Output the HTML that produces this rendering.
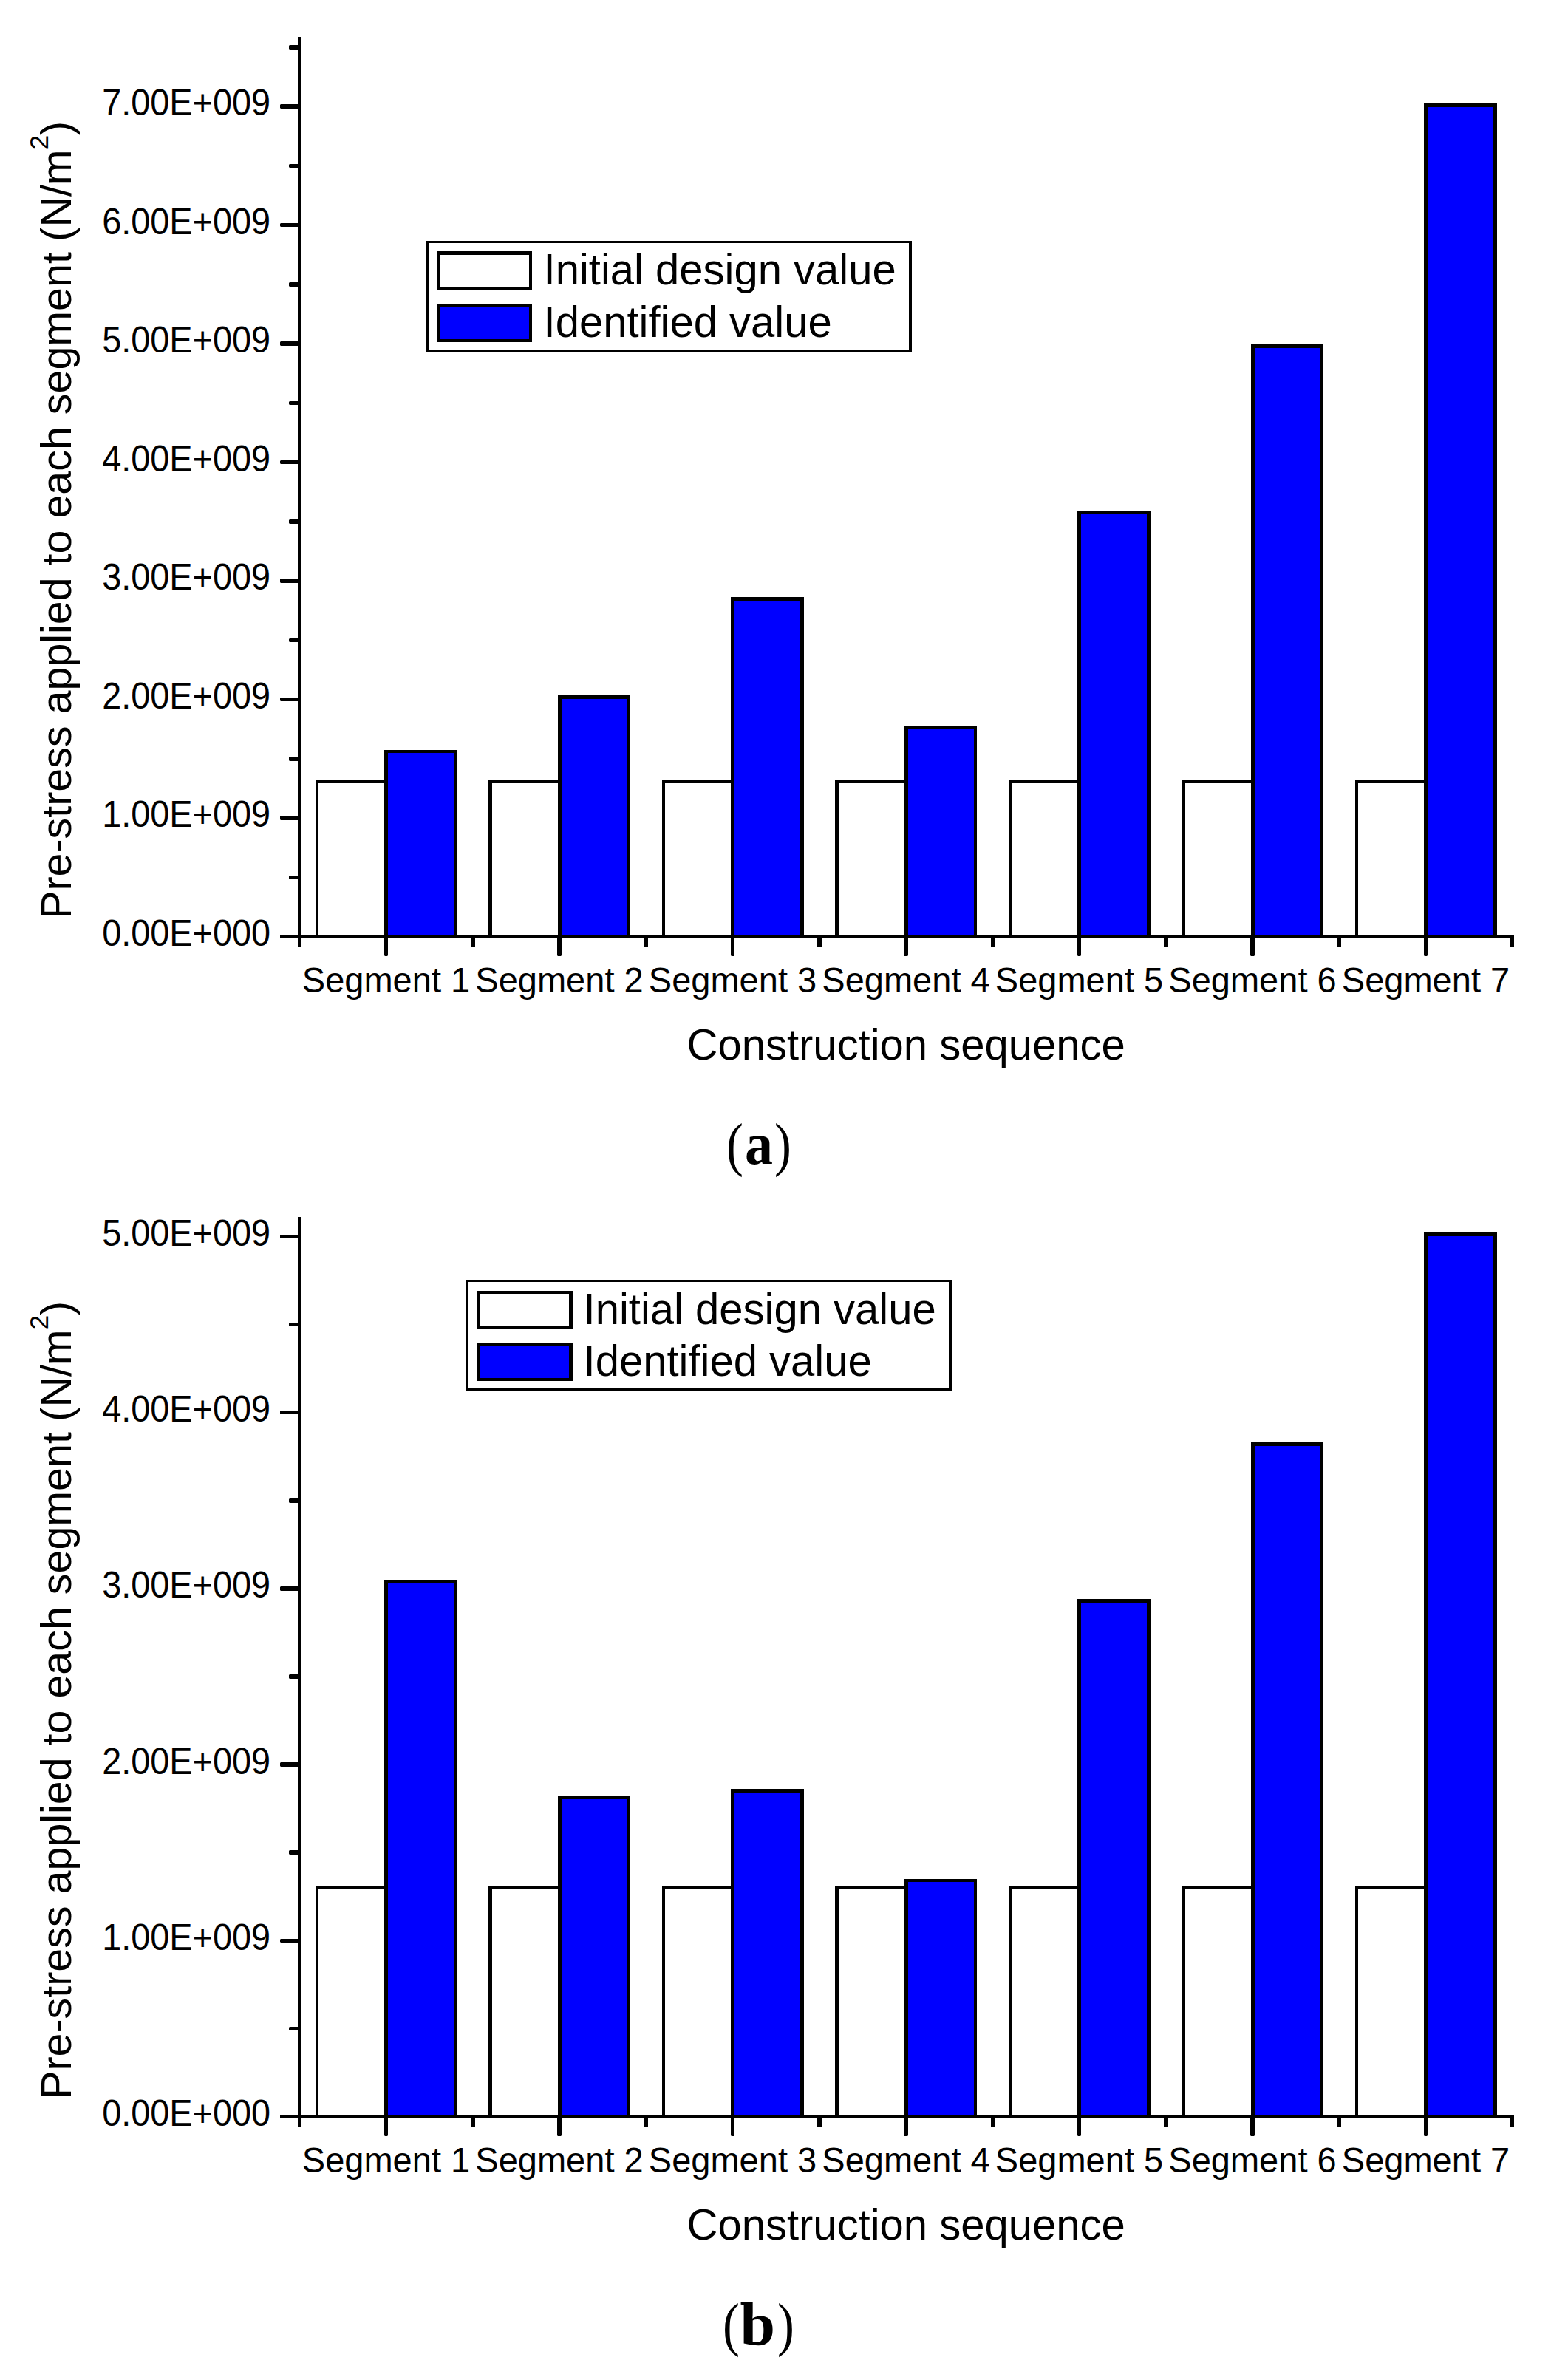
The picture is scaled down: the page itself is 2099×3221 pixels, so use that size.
<!DOCTYPE html>
<html><head><meta charset="utf-8"><title>Pre-stress applied to each segment</title>
<style>
html,body{margin:0;padding:0;background:#fff;}
svg{display:block;}
text{fill:#000;}
</style></head>
<body>
<svg width="2099" height="3221" viewBox="0 0 2099 3221" font-family='"Liberation Sans", sans-serif'>
<rect x="0" y="0" width="2099" height="3221" fill="#fff"/>
<g id="panel-a">
<rect x="427" y="1056" width="98" height="212" fill="#000"/><rect x="431" y="1060" width="89" height="208" fill="#fff"/>
<rect x="661" y="1056" width="99" height="212" fill="#000"/><rect x="666" y="1060" width="89" height="208" fill="#fff"/>
<rect x="896" y="1056" width="98" height="212" fill="#000"/><rect x="900" y="1060" width="89" height="208" fill="#fff"/>
<rect x="1130" y="1056" width="99" height="212" fill="#000"/><rect x="1135" y="1060" width="89" height="208" fill="#fff"/>
<rect x="1365" y="1056" width="98" height="212" fill="#000"/><rect x="1369" y="1060" width="89" height="208" fill="#fff"/>
<rect x="1599" y="1056" width="99" height="212" fill="#000"/><rect x="1604" y="1060" width="89" height="208" fill="#fff"/>
<rect x="1834" y="1056" width="98" height="212" fill="#000"/><rect x="1838" y="1060" width="89" height="208" fill="#fff"/>
<rect x="520" y="1015" width="99" height="253" fill="#000"/><rect x="525" y="1019" width="89" height="249" fill="#0000ff"/>
<rect x="755" y="941" width="98" height="327" fill="#000"/><rect x="760" y="946" width="89" height="322" fill="#0000ff"/>
<rect x="989" y="808" width="99" height="460" fill="#000"/><rect x="994" y="813" width="89" height="455" fill="#0000ff"/>
<rect x="1224" y="982" width="98" height="286" fill="#000"/><rect x="1229" y="987" width="89" height="281" fill="#0000ff"/>
<rect x="1458" y="691" width="99" height="577" fill="#000"/><rect x="1463" y="695" width="89" height="573" fill="#0000ff"/>
<rect x="1693" y="466" width="98" height="802" fill="#000"/><rect x="1698" y="471" width="89" height="797" fill="#0000ff"/>
<rect x="1927" y="140" width="99" height="1128" fill="#000"/><rect x="1932" y="145" width="89" height="1123" fill="#0000ff"/>
<rect x="403" y="50" width="5" height="1232" fill="#000"/>
<rect x="380" y="1265" width="1669" height="5" fill="#000"/>
<polygon points="380,1265 380,1270 379,1269 379,1266" fill="#000"/>
<text transform="translate(365.95,1279.90) scale(1.0,1.05)" font-size="46.8" text-anchor="end">0.00E+000</text>
<polygon points="392,1185 403,1185 403,1190 392,1190 391,1189 391,1186" fill="#000"/>
<polygon points="380,1104 403,1104 403,1110 380,1110 379,1109 379,1105" fill="#000"/>
<text transform="translate(365.95,1119.40) scale(1.0,1.05)" font-size="46.8" text-anchor="end">1.00E+009</text>
<polygon points="392,1024 403,1024 403,1030 392,1030 391,1029 391,1025" fill="#000"/>
<polygon points="380,944 403,944 403,949 380,949 379,948 379,945" fill="#000"/>
<text transform="translate(365.95,958.90) scale(1.0,1.05)" font-size="46.8" text-anchor="end">2.00E+009</text>
<polygon points="392,864 403,864 403,869 392,869 391,868 391,865" fill="#000"/>
<polygon points="380,783 403,783 403,789 380,789 379,788 379,784" fill="#000"/>
<text transform="translate(365.95,798.40) scale(1.0,1.05)" font-size="46.8" text-anchor="end">3.00E+009</text>
<polygon points="392,703 403,703 403,709 392,709 391,708 391,704" fill="#000"/>
<polygon points="380,623 403,623 403,628 380,628 379,627 379,624" fill="#000"/>
<text transform="translate(365.95,637.90) scale(1.0,1.05)" font-size="46.8" text-anchor="end">4.00E+009</text>
<polygon points="392,543 403,543 403,548 392,548 391,547 391,544" fill="#000"/>
<polygon points="380,462 403,462 403,468 380,468 379,467 379,463" fill="#000"/>
<text transform="translate(365.95,477.40) scale(1.0,1.05)" font-size="46.8" text-anchor="end">5.00E+009</text>
<polygon points="392,382 403,382 403,388 392,388 391,387 391,383" fill="#000"/>
<polygon points="380,302 403,302 403,307 380,307 379,306 379,303" fill="#000"/>
<text transform="translate(365.95,316.90) scale(1.0,1.05)" font-size="46.8" text-anchor="end">6.00E+009</text>
<polygon points="392,222 403,222 403,227 392,227 391,226 391,223" fill="#000"/>
<polygon points="380,141 403,141 403,147 380,147 379,146 379,142" fill="#000"/>
<text transform="translate(365.95,156.40) scale(1.0,1.05)" font-size="46.8" text-anchor="end">7.00E+009</text>
<polygon points="392,61 403,61 403,67 392,67 391,66 391,62" fill="#000"/>
<polygon points="520,1270 525,1270 525,1293 524,1294 521,1294 520,1293" fill="#000"/>
<polygon points="637,1270 643,1270 643,1281 642,1282 638,1282 637,1281" fill="#000"/>
<text transform="translate(522.50,1342.60) scale(1.0,1.02)" font-size="47" text-anchor="middle">Segment 1</text>
<polygon points="754,1270 760,1270 760,1293 759,1294 755,1294 754,1293" fill="#000"/>
<polygon points="872,1270 877,1270 877,1281 876,1282 873,1282 872,1281" fill="#000"/>
<text transform="translate(757.00,1342.60) scale(1.0,1.02)" font-size="47" text-anchor="middle">Segment 2</text>
<polygon points="989,1270 994,1270 994,1293 993,1294 990,1294 989,1293" fill="#000"/>
<polygon points="1106,1270 1112,1270 1112,1281 1111,1282 1107,1282 1106,1281" fill="#000"/>
<text transform="translate(991.50,1342.60) scale(1.0,1.02)" font-size="47" text-anchor="middle">Segment 3</text>
<polygon points="1223,1270 1229,1270 1229,1293 1228,1294 1224,1294 1223,1293" fill="#000"/>
<polygon points="1341,1270 1346,1270 1346,1281 1345,1282 1342,1282 1341,1281" fill="#000"/>
<text transform="translate(1226.00,1342.60) scale(1.0,1.02)" font-size="47" text-anchor="middle">Segment 4</text>
<polygon points="1458,1270 1463,1270 1463,1293 1462,1294 1459,1294 1458,1293" fill="#000"/>
<polygon points="1575,1270 1581,1270 1581,1281 1580,1282 1576,1282 1575,1281" fill="#000"/>
<text transform="translate(1460.50,1342.60) scale(1.0,1.02)" font-size="47" text-anchor="middle">Segment 5</text>
<polygon points="1692,1270 1698,1270 1698,1293 1697,1294 1693,1294 1692,1293" fill="#000"/>
<polygon points="1810,1270 1815,1270 1815,1281 1814,1282 1811,1282 1810,1281" fill="#000"/>
<text transform="translate(1695.00,1342.60) scale(1.0,1.02)" font-size="47" text-anchor="middle">Segment 6</text>
<polygon points="1927,1270 1932,1270 1932,1293 1931,1294 1928,1294 1927,1293" fill="#000"/>
<rect x="2044" y="1270" width="5" height="12" fill="#000"/>
<text transform="translate(1929.50,1342.60) scale(1.0,1.02)" font-size="47" text-anchor="middle">Segment 7</text>
<text transform="translate(1226.15,1433.70) scale(1.0,1.01)" font-size="58" text-anchor="middle">Construction sequence</text>
<text transform="translate(96.20,1243.80) rotate(-90) scale(1.0,1.01)" font-size="57.4">Pre-stress applied to each segment<tspan dx="-1.5"> (N/m</tspan><tspan font-size="35" dy="-31">2</tspan><tspan dy="31">)</tspan></text>
<rect x="577" y="326" width="657" height="150" fill="#000"/><rect x="580" y="329" width="650" height="144" fill="#fff"/>
<rect x="591" y="340" width="129" height="53" fill="#000"/><rect x="596" y="345" width="120" height="43" fill="#fff"/>
<rect x="591" y="411" width="129" height="52" fill="#000"/><rect x="596" y="415" width="120" height="44" fill="#0000ff"/>
<text transform="translate(735.60,385.00) scale(1.0,1.01)" font-size="58">Initial design value</text>
<text transform="translate(735.60,456.00) scale(1.0,1.01)" font-size="58">Identified value</text>
<text transform="translate(983.00,1576.40) scale(0.86,1.0)" font-size="80" font-family='"Liberation Serif", serif'>(</text>
<text transform="translate(1008.00,1575.40) scale(0.95,1.0)" font-size="80" font-family='"Liberation Serif", serif' font-weight="bold">a</text>
<text transform="translate(1071.00,1576.40) scale(0.86,1.0)" font-size="80" text-anchor="end" font-family='"Liberation Serif", serif'>)</text>
</g>
<g id="panel-b">
<rect x="427" y="2552" width="98" height="313" fill="#000"/><rect x="431" y="2556" width="89" height="309" fill="#fff"/>
<rect x="661" y="2552" width="99" height="313" fill="#000"/><rect x="666" y="2556" width="89" height="309" fill="#fff"/>
<rect x="896" y="2552" width="98" height="313" fill="#000"/><rect x="900" y="2556" width="89" height="309" fill="#fff"/>
<rect x="1130" y="2552" width="99" height="313" fill="#000"/><rect x="1135" y="2556" width="89" height="309" fill="#fff"/>
<rect x="1365" y="2552" width="98" height="313" fill="#000"/><rect x="1369" y="2556" width="89" height="309" fill="#fff"/>
<rect x="1599" y="2552" width="99" height="313" fill="#000"/><rect x="1604" y="2556" width="89" height="309" fill="#fff"/>
<rect x="1834" y="2552" width="98" height="313" fill="#000"/><rect x="1838" y="2556" width="89" height="309" fill="#fff"/>
<rect x="520" y="2138" width="99" height="727" fill="#000"/><rect x="525" y="2143" width="89" height="722" fill="#0000ff"/>
<rect x="755" y="2431" width="98" height="434" fill="#000"/><rect x="760" y="2435" width="89" height="430" fill="#0000ff"/>
<rect x="989" y="2421" width="99" height="444" fill="#000"/><rect x="994" y="2426" width="89" height="439" fill="#0000ff"/>
<rect x="1224" y="2543" width="98" height="322" fill="#000"/><rect x="1229" y="2547" width="89" height="318" fill="#0000ff"/>
<rect x="1458" y="2164" width="99" height="701" fill="#000"/><rect x="1463" y="2169" width="89" height="696" fill="#0000ff"/>
<rect x="1693" y="1952" width="98" height="913" fill="#000"/><rect x="1698" y="1957" width="89" height="908" fill="#0000ff"/>
<rect x="1927" y="1668" width="99" height="1197" fill="#000"/><rect x="1932" y="1673" width="89" height="1192" fill="#0000ff"/>
<rect x="403" y="1647" width="5" height="1232" fill="#000"/>
<rect x="380" y="2862" width="1669" height="5" fill="#000"/>
<polygon points="380,2862 380,2867 379,2866 379,2863" fill="#000"/>
<text transform="translate(365.95,2876.90) scale(1.0,1.05)" font-size="46.8" text-anchor="end">0.00E+000</text>
<polygon points="392,2743 403,2743 403,2748 392,2748 391,2747 391,2744" fill="#000"/>
<polygon points="380,2624 403,2624 403,2629 380,2629 379,2628 379,2625" fill="#000"/>
<text transform="translate(365.95,2638.70) scale(1.0,1.05)" font-size="46.8" text-anchor="end">1.00E+009</text>
<polygon points="392,2504 403,2504 403,2510 392,2510 391,2509 391,2505" fill="#000"/>
<polygon points="380,2385 403,2385 403,2391 380,2391 379,2390 379,2386" fill="#000"/>
<text transform="translate(365.95,2400.50) scale(1.0,1.05)" font-size="46.8" text-anchor="end">2.00E+009</text>
<polygon points="392,2266 403,2266 403,2272 392,2272 391,2271 391,2267" fill="#000"/>
<polygon points="380,2147 403,2147 403,2153 380,2153 379,2152 379,2148" fill="#000"/>
<text transform="translate(365.95,2162.30) scale(1.0,1.05)" font-size="46.8" text-anchor="end">3.00E+009</text>
<polygon points="392,2028 403,2028 403,2034 392,2034 391,2033 391,2029" fill="#000"/>
<polygon points="380,1909 403,1909 403,1914 380,1914 379,1913 379,1910" fill="#000"/>
<text transform="translate(365.95,1924.10) scale(1.0,1.05)" font-size="46.8" text-anchor="end">4.00E+009</text>
<polygon points="392,1790 403,1790 403,1795 392,1795 391,1794 391,1791" fill="#000"/>
<polygon points="380,1671 403,1671 403,1676 380,1676 379,1675 379,1672" fill="#000"/>
<text transform="translate(365.95,1685.90) scale(1.0,1.05)" font-size="46.8" text-anchor="end">5.00E+009</text>
<polygon points="520,2867 525,2867 525,2890 524,2891 521,2891 520,2890" fill="#000"/>
<polygon points="637,2867 643,2867 643,2878 642,2879 638,2879 637,2878" fill="#000"/>
<text transform="translate(522.50,2939.60) scale(1.0,1.02)" font-size="47" text-anchor="middle">Segment 1</text>
<polygon points="754,2867 760,2867 760,2890 759,2891 755,2891 754,2890" fill="#000"/>
<polygon points="872,2867 877,2867 877,2878 876,2879 873,2879 872,2878" fill="#000"/>
<text transform="translate(757.00,2939.60) scale(1.0,1.02)" font-size="47" text-anchor="middle">Segment 2</text>
<polygon points="989,2867 994,2867 994,2890 993,2891 990,2891 989,2890" fill="#000"/>
<polygon points="1106,2867 1112,2867 1112,2878 1111,2879 1107,2879 1106,2878" fill="#000"/>
<text transform="translate(991.50,2939.60) scale(1.0,1.02)" font-size="47" text-anchor="middle">Segment 3</text>
<polygon points="1223,2867 1229,2867 1229,2890 1228,2891 1224,2891 1223,2890" fill="#000"/>
<polygon points="1341,2867 1346,2867 1346,2878 1345,2879 1342,2879 1341,2878" fill="#000"/>
<text transform="translate(1226.00,2939.60) scale(1.0,1.02)" font-size="47" text-anchor="middle">Segment 4</text>
<polygon points="1458,2867 1463,2867 1463,2890 1462,2891 1459,2891 1458,2890" fill="#000"/>
<polygon points="1575,2867 1581,2867 1581,2878 1580,2879 1576,2879 1575,2878" fill="#000"/>
<text transform="translate(1460.50,2939.60) scale(1.0,1.02)" font-size="47" text-anchor="middle">Segment 5</text>
<polygon points="1692,2867 1698,2867 1698,2890 1697,2891 1693,2891 1692,2890" fill="#000"/>
<polygon points="1810,2867 1815,2867 1815,2878 1814,2879 1811,2879 1810,2878" fill="#000"/>
<text transform="translate(1695.00,2939.60) scale(1.0,1.02)" font-size="47" text-anchor="middle">Segment 6</text>
<polygon points="1927,2867 1932,2867 1932,2890 1931,2891 1928,2891 1927,2890" fill="#000"/>
<rect x="2044" y="2867" width="5" height="12" fill="#000"/>
<text transform="translate(1929.50,2939.60) scale(1.0,1.02)" font-size="47" text-anchor="middle">Segment 7</text>
<text transform="translate(1226.15,3030.70) scale(1.0,1.01)" font-size="58" text-anchor="middle">Construction sequence</text>
<text transform="translate(96.20,2840.80) rotate(-90) scale(1.0,1.01)" font-size="57.4">Pre-stress applied to each segment<tspan dx="-1.5"> (N/m</tspan><tspan font-size="35" dy="-31">2</tspan><tspan dy="31">)</tspan></text>
<rect x="631" y="1732" width="657" height="150" fill="#000"/><rect x="634" y="1735" width="650" height="144" fill="#fff"/>
<rect x="645" y="1747" width="130" height="52" fill="#000"/><rect x="650" y="1751" width="120" height="44" fill="#fff"/>
<rect x="645" y="1817" width="130" height="52" fill="#000"/><rect x="650" y="1822" width="120" height="43" fill="#0000ff"/>
<text transform="translate(789.60,1792.00) scale(1.0,1.01)" font-size="58">Initial design value</text>
<text transform="translate(789.60,1862.00) scale(1.0,1.01)" font-size="58">Identified value</text>
<text transform="translate(978.00,3172.80) scale(0.86,1.0)" font-size="80" font-family='"Liberation Serif", serif'>(</text>
<text transform="translate(1001.50,3172.80) scale(1.07,1.04)" font-size="80" font-family='"Liberation Serif", serif' font-weight="bold">b</text>
<text transform="translate(1075.00,3172.80) scale(0.86,1.0)" font-size="80" text-anchor="end" font-family='"Liberation Serif", serif'>)</text>
</g>
</svg>
</body></html>
